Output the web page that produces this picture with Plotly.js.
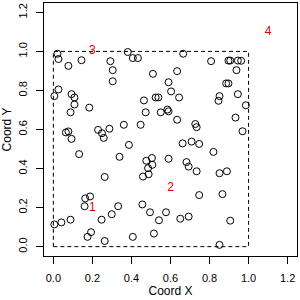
<!DOCTYPE html>
<html>
<head>
<meta charset="utf-8">
<script src="https://cdn.plot.ly/plotly-3.0.1.min.js"></script>
<style>html,body{margin:0;padding:0;background:#fff;}#plot{width:300px;height:300px;}</style>
</head>
<body>
<div id="plot"></div>
<script>
// Point coordinates
const xs = [0.021,0.026,0.077,0.144,0.292,0.304,0.304,0.381,0.407,0.433,
  0.464,0.473,0.447,0.026,0.005,0.093,0.108,0.108,0.088,0.184,
  0.064,0.077,0.093,0.229,0.249,0.258,0.287,0.361,0.387,
  0.665,0.808,0.897,0.906,0.945,0.962,0.938,0.510,0.634,0.590,0.603,
  0.644,0.524,0.538,0.550,0.584,0.590,0.634,0.885,0.897,0.945,
  0.851,0.846,0.986,0.933,0.969,0.727,0.734,0.662,0.708,0.747,
  0.132,0.339,0.263,0.163,0.188,0.160,0.332,0.299,0.247,0.088,
  0.041,0.005,0.193,0.175,0.263,0.407,0.456,0.459,
  0.820,0.476,0.505,0.507,0.485,0.488,0.590,0.682,0.693,0.734,
  0.851,0.889,0.747,0.866,0.495,0.577,0.541,0.650,0.693,0.906,
  0.515,0.851];
const ys = [0.988,0.961,0.926,0.955,0.950,0.904,0.847,0.997,0.966,0.966,
  0.749,0.688,0.624,0.805,0.771,0.781,0.764,0.728,0.688,0.712,
  0.585,0.590,0.552,0.598,0.581,0.557,0.604,0.624,0.521,
  0.988,0.950,0.953,0.953,0.953,0.952,0.904,0.885,0.899,0.842,0.795,
  0.764,0.764,0.764,0.688,0.702,0.693,0.650,0.836,0.836,0.781,
  0.771,0.747,0.724,0.661,0.591,0.628,0.612,0.529,0.538,0.526,
  0.474,0.460,0.357,0.247,0.257,0.207,0.207,0.166,0.138,0.138,
  0.124,0.114,0.074,0.050,0.029,0.050,0.216,0.359,
  0.485,0.440,0.454,0.419,0.402,0.371,0.450,0.433,0.410,0.386,
  0.376,0.386,0.264,0.269,0.176,0.176,0.135,0.143,0.154,0.133,
  0.067,0.009];
// Region labels
const labelX = [0.2, 0.6, 0.2, 1.1];
const labelY = [0.2, 0.3, 1.0, 1.1];
const labelText = ['1', '2', '3', '4'];
// Dashed unit square
const boxX = [0, 1, 1, 0, 0];
const boxY = [0, 0, 1, 1, 0];
const tickVals = [0, 0.2, 0.4, 0.6, 0.8, 1.0, 1.2];
const tickText = ['0.0', '0.2', '0.4', '0.6', '0.8', '1.0', '1.2'];

const font = {family: 'Liberation Sans, Arial, sans-serif', size: 11, color: '#000'};

const traces = [
  {x: boxX, y: boxY, mode: 'lines', type: 'scatter', hoverinfo: 'skip',
   line: {color: '#000', width: 1, dash: '4px,3px'}},
  {x: xs, y: ys, mode: 'markers', type: 'scatter',
   marker: {symbol: 'circle-open', size: 7, color: '#000', line: {width: 1, color: '#000'}}},
  {x: labelX, y: labelY, text: labelText, mode: 'text', type: 'scatter',
   textfont: {family: 'Liberation Sans, Arial, sans-serif', size: 12, color: '#dd0000'}}
];

const axisCommon = {
  range: [-0.048, 1.248], tickvals: tickVals, ticktext: tickText,
  showgrid: false, zeroline: false, showline: true, mirror: true,
  linecolor: '#000', linewidth: 1, ticks: 'outside', ticklen: 7,
  tickcolor: '#000', tickwidth: 1, tickfont: font, ticklabelstandoff: 5
};

const layout = {
  width: 300, height: 300,
  margin: {l: 44, r: 3, t: 3, b: 44},
  paper_bgcolor: '#fff', plot_bgcolor: '#fff',
  showlegend: false,
  xaxis: Object.assign({}, axisCommon, {title: {text: 'Coord X', font: {family: font.family, size: 12, color: '#000'}, standoff: 3}}),
  yaxis: Object.assign({}, axisCommon, {tickangle: -90, title: {text: 'Coord Y', font: {family: font.family, size: 12, color: '#000'}, standoff: 3}})
};

Plotly.newPlot('plot', traces, layout, {staticPlot: true, displayModeBar: false});
</script>
</body>
</html>
